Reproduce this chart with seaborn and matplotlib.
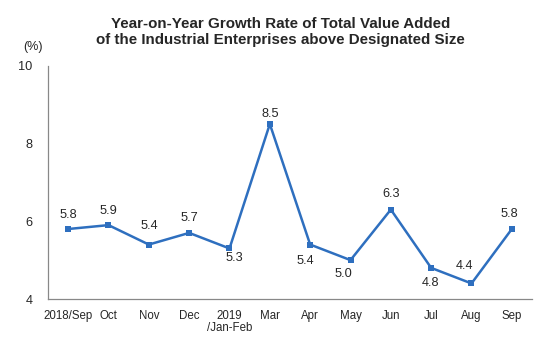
import matplotlib
matplotlib.use("Agg")
import matplotlib.pyplot as plt
import seaborn as sns
import pandas as pd
import numpy as np

categories = ["2018/Sep", "Oct", "Nov", "Dec", "2019\n/Jan-Feb", "Mar", "Apr",
              "May", "Jun", "Jul", "Aug", "Sep"]
values = [5.8, 5.9, 5.4, 5.7, 5.3, 8.5, 5.4, 5.0, 6.3, 4.8, 4.4, 5.8]
y_ticks = [4, 6, 8, 10]

# label placement relative to each point (pixels, +y is up)
label_offsets_px = [(0, 14), (0, 14), (0, 19), (0, 15), (5, -10), (0, 10),
                    (-5, -16), (-7, -14), (0, 16), (-1, -15), (-7, 17), (-3, 15)]

sns.set_style("white")
plt.rcParams["font.family"] = ["Liberation Sans", "DejaVu Sans"]

df = pd.DataFrame({"x": np.arange(len(categories)), "value": values})

fig = plt.figure(figsize=(5.53, 3.48), dpi=100)
ax = fig.add_axes([48/553, 49/348, 484/553, 233.3/348])

line_color = "#2E6FBF"
sns.lineplot(data=df, x="x", y="value", ax=ax, color=line_color, linewidth=1.8,
             marker="s", markersize=4.5, markeredgewidth=0, markerfacecolor=line_color)

ax.set_xlim(-0.5, len(categories) - 0.5)
ax.set_ylim(4, 10)
ax.set_yticks(y_ticks)
ax.set_yticklabels([str(t) for t in y_ticks], fontsize=9.2)
ax.set_xticks(np.arange(len(categories)))
ax.set_xticklabels(categories, fontsize=8.3,
                   family=["Liberation Sans Narrow", "Liberation Sans", "DejaVu Sans"],
                   linespacing=1.0)
ax.set_xticks(np.arange(len(categories) + 1) - 0.5, minor=True)
ax.tick_params(axis="x", which="major", length=0, pad=8)
ax.tick_params(axis="x", which="minor", length=4, direction="in", color="#888888", width=0.8)
ax.tick_params(axis="y", which="major", length=4, direction="in", color="#888888",
               width=0.8, pad=11)

ax.set_xlabel("")
ax.set_ylabel("")
for s in ["top", "right"]:
    ax.spines[s].set_visible(False)
for s in ["left", "bottom"]:
    ax.spines[s].set_color("#888888")
    ax.spines[s].set_linewidth(0.9)

for i, v in enumerate(values):
    dx, dy = label_offsets_px[i]
    ax.annotate(f"{v:.1f}", (i, v), xytext=(dx, dy), textcoords="offset pixels",
                ha="center", va="center", fontsize=9.2)

fig.text(0.507, 1 - 32/348, "Year-on-Year Growth Rate of Total Value Added\nof the Industrial Enterprises above Designated Size",
         ha="center", va="center", fontsize=10.9, fontweight="bold", linespacing=1.12)
fig.text(33/553, 1 - 47/348, "(%)", ha="center", va="center", fontsize=9)

fig.savefig("out.png", dpi=100)
